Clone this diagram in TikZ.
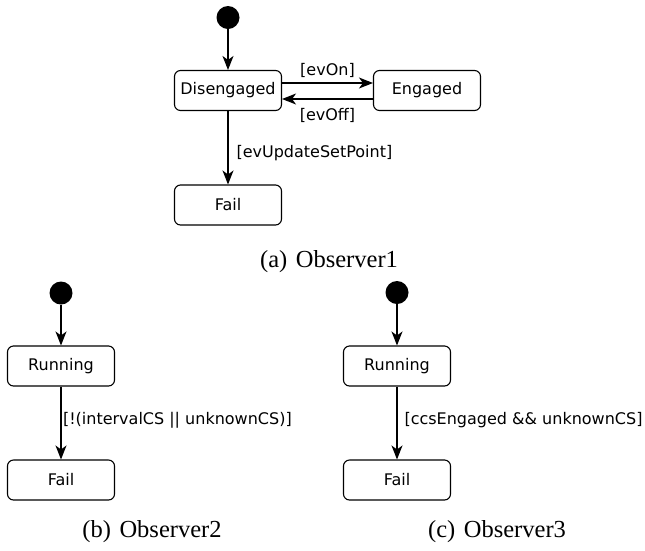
\documentclass[tikz,border=0pt]{standalone}
\usepackage{fontspec}
\setmainfont{Liberation Serif}
\newfontfamily\umlfont{DejaVu Sans}
\usetikzlibrary{arrows.meta}

\begin{document}
\begin{tikzpicture}[x=1pt, y=-1pt,
    state/.style={draw, line width=1.1pt, rounded corners=6pt, minimum width=107pt,
        minimum height=40pt, inner sep=0pt, font=\umlfont\fontsize{16}{19}\selectfont},
    init/.style={circle, fill, minimum size=23pt, inner sep=0pt},
    guard/.style={inner sep=1pt, font=\umlfont\fontsize{16}{19}\selectfont},
    caption/.style={anchor=base, font=\fontsize{24.5}{29}\selectfont},
    trans/.style={line width=1.1pt, ->},
    >={Stealth[length=14pt, width=11pt, inset=4pt]}]
    \useasboundingbox (0,0) rectangle (645,550);

    \node[init] (i1) at (228,17.5) {};
    \node[state] (dis) at (228,90.5) {Disengaged};
    \node[state] (eng) at (427,90.5) {Engaged};
    \node[state] (f1) at (228,205) {Fail};
    \node[caption] (c1) at (329,267.5) {(a)\hspace{0.35em}Observer1};

    \node[init] (i2) at (61,293) {};
    \node[state] (run2) at (61,366) {Running};
    \node[state] (f2) at (61,480) {Fail};
    \node[caption] (c2) at (152,537) {(b)\hspace{0.35em}Observer2};

    \node[init] (i3) at (397,292.5) {};
    \node[state] (run3) at (397,366) {Running};
    \node[state] (f3) at (397,480) {Fail};
    \node[caption] (c3) at (497,537) {(c)\hspace{0.35em}Observer3};

    \draw[trans] (i1) -- (dis);
    \draw[trans] ([yshift=7.5pt]dis.east) -- node[guard, above=4pt] {[evOn]} ([yshift=7.5pt]eng.west);
    \draw[trans] ([yshift=-8.5pt]eng.west) -- node[guard, below=7.5pt] {[evOff]} ([yshift=-8.5pt]dis.east);
    \draw[trans] (dis) -- node[guard, right=7pt, pos=0.57] {[evUpdateSetPoint]} (f1);

    \draw[trans] (i2) -- (run2);
    \draw[trans] (run2) -- node[guard, right=0.5pt, pos=0.46] {[!(intervalCS || unknownCS)]} (f2);

    \draw[trans] (i3) -- (run3);
    \draw[trans] (run3) -- node[guard, right=6pt, pos=0.46] {[ccsEngaged \&\& unknownCS]} (f3);
\end{tikzpicture}
\end{document}
